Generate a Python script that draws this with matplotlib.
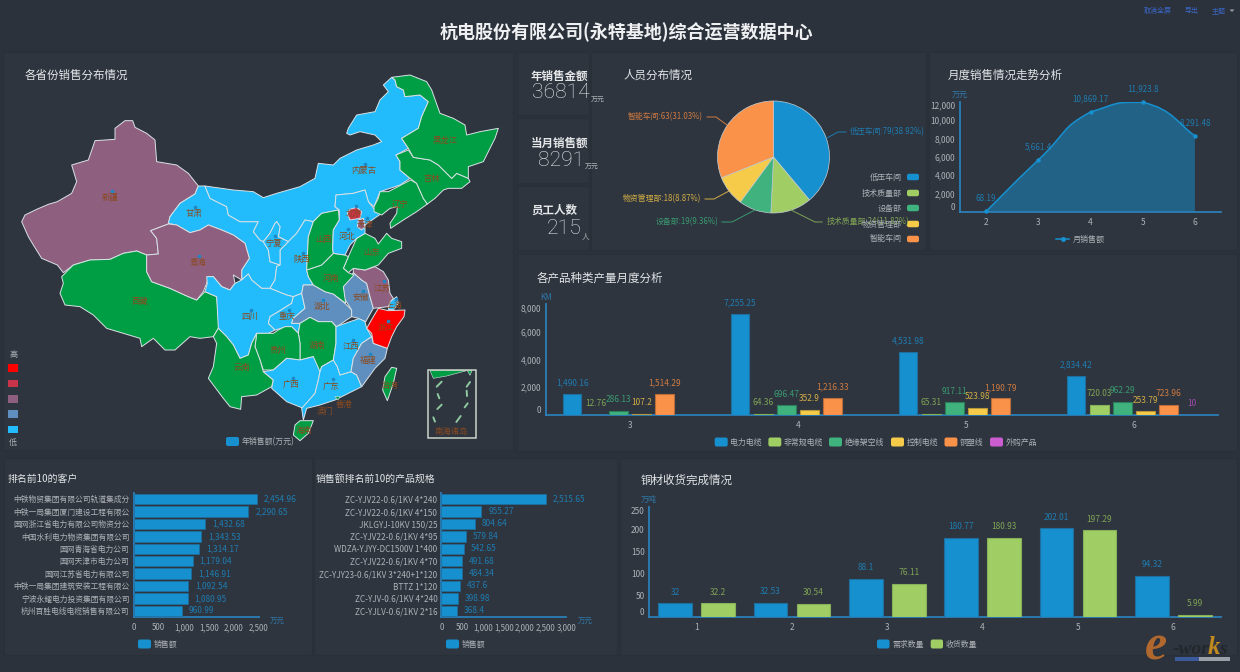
import matplotlib
matplotlib.use("Agg")
import matplotlib.pyplot as plt
from matplotlib.patches import FancyBboxPatch, Rectangle, PathPatch, Polygon
from matplotlib.path import Path

plt.rcParams['font.family'] = ['Noto Sans CJK SC', 'DejaVu Sans']
plt.rcParams['axes.unicode_minus'] = False

# ---------- data ----------
kpi_sales_year = 36814
kpi_sales_month = 8291
kpi_staff = 215

pie_names = ['低压车间', '技术质量部', '设备部', '物资管理部', '智能车间']
pie_values = [79, 24, 19, 18, 63]
pie_pct = ['38.92%', '11.82%', '9.36%', '8.87%', '31.03%']

month_x = ['2', '3', '4', '5', '6']
month_sales = [68.19, 5661.4, 10869.17, 11923.8, 8291.48]

prod_months = ['3', '4', '5', '6']
prod_names = ['电力电缆', '非常规电缆', '绝缘架空线', '控制电缆', '铜塑线', '外购产品']
prod_power = [1490.16, 7255.25, 4531.98, 2834.42]
prod_special = [12.76, 64.36, 65.31, 720.03]
prod_overhead = [286.13, 696.47, 917.11, 962.29]
prod_control = [107.2, 352.9, 523.98, 253.79]
prod_plastic = [1514.29, 1216.33, 1190.79, 723.96]
prod_bought = [None, None, None, 10]

cust_names = ['中铁物贸集团有限公司轨道集成分', '中铁一局集团厦门建设工程有限公', '国网浙江省电力有限公司物资分公',
              '中国水利电力物资集团有限公司', '国网青海省电力公司', '国网天津市电力公司', '国网江苏省电力有限公司',
              '中铁一局集团建筑安装工程有限公', '宁波永耀电力投资集团有限公司', '杭州百胜电线电缆销售有限公司']
cust_sales = [2454.96, 2290.65, 1432.68, 1343.53, 1314.17, 1179.04, 1146.91, 1092.54, 1080.95, 960.99]

spec_names = ['ZC-YJV22-0.6/1KV 4*240', 'ZC-YJV22-0.6/1KV 4*150', 'JKLGYJ-10KV 150/25', 'ZC-YJV22-0.6/1KV 4*95',
              'WDZA-YJYY-DC1500V 1*400', 'ZC-YJV22-0.6/1KV 4*70', 'ZC-YJY23-0.6/1KV 3*240+1*120', 'BTTZ 1*120',
              'ZC-YJV-0.6/1KV 4*240', 'ZC-YJLV-0.6/1KV 2*16']
spec_sales = [2515.65, 955.27, 804.64, 579.84, 542.65, 491.68, 484.34, 437.6, 398.98, 368.4]

copper_months = ['1', '2', '3', '4', '5', '6']
copper_demand = [32, 32.53, 88.1, 180.77, 202.01, 94.32]
copper_received = [32.2, 30.54, 76.11, 180.93, 197.29, 5.99]

province_level = {
    '新疆': 2, '西藏': 4, '青海': 2, '甘肃': 0, '内蒙古': 0, '宁夏': 0, '陕西': 0, '四川': 0, '重庆': 0, '湖北': 1,
    '湖南': 4, '贵州': 4, '云南': 4, '广西': 0, '广东': 0, '海南': 4, '江西': 0, '福建': 1, '浙江': 5, '安徽': 1,
    '江苏': 2, '上海': 0, '山东': 4, '河南': 4, '山西': 4, '河北': 0, '北京': 3, '天津': 2, '辽宁': 4, '吉林': 4,
    '黑龙江': 4, '台湾': 4,
}
# province outlines (map units)
outlines = {
    '新疆': [(65,515),(75,495),(110,478),(145,463),(172,455),(215,430),(230,395),(215,345),(265,330),(285,272),(345,268),(345,235),(375,212),(398,212),(405,232),(440,250),(465,270),(470,335),(530,345),(565,370),(595,408),(585,432),(540,460),(510,500),(505,522),(452,542),(470,565),(475,612),(440,615),(410,603),(370,610),(330,628),(270,630),(220,645),(190,668),(172,645),(125,625),(100,585),(85,560)],
    '西藏': [(185,680),(220,645),(270,630),(330,628),(370,610),(410,603),(440,615),(440,665),(455,695),(510,715),(565,740),(590,750),(615,725),(650,740),(658,830),(640,860),(600,865),(570,860),(525,900),(495,900),(460,865),(425,890),(420,865),(370,850),(320,835),(280,795),(240,770),(195,765),(180,730),(190,700)],
    '甘肃': [(595,408),(615,408),(630,445),(680,470),(685,495),(720,515),(775,515),(760,545),(780,570),(790,575),(805,600),(810,635),(840,645),(830,650),(825,690),(810,715),(785,715),(755,690),(745,672),(725,690),(725,660),(748,625),(735,580),(700,555),(665,540),(625,525),(600,540),(570,548),(530,525),(505,520),(510,500),(540,460),(585,432)],
    '青海': [(452,542),(505,522),(530,525),(570,548),(600,540),(625,525),(665,540),(700,555),(735,580),(748,625),(725,660),(725,690),(700,675),(705,700),(690,720),(665,710),(640,680),(625,680),(620,700),(610,725),(590,750),(565,740),(510,715),(455,695),(440,665),(440,615),(475,612),(470,565)],
    '内蒙古': [(615,408),(700,420),(760,425),(790,443),(830,430),(900,410),(945,385),(955,340),(1000,345),(1020,325),(1070,300),(1120,285),(1145,275),(1125,255),(1080,245),(1050,255),(1040,250),(1045,235),(1070,195),(1125,185),(1140,150),(1165,125),(1150,105),(1175,82),(1185,90),(1190,110),(1210,120),(1215,140),(1260,135),(1285,155),(1265,200),(1255,235),(1205,265),(1225,295),(1188,315),(1200,335),(1200,360),(1230,385),(1200,405),(1140,425),(1122,470),(1105,455),(1095,420),(1060,430),(1008,435),(1005,470),(1018,480),(965,490),(940,515),(915,510),(890,550),(865,575),(835,560),(840,530),(830,515),(825,520),(810,550),(790,575),(780,570),(760,545),(775,515),(720,515),(685,495),(680,470),(630,445)],
    '陕西': [(915,510),(940,515),(925,560),(922,620),(920,660),(925,680),(940,705),(910,705),(905,730),(880,740),(860,735),(810,715),(825,690),(830,650),(840,645),(840,600),(865,575),(890,550)],
    '宁夏': [(830,515),(840,530),(835,560),(865,575),(840,600),(840,645),(810,635),(805,600),(790,575),(810,550),(825,520)],
    '四川': [(620,680),(640,680),(665,710),(690,720),(705,700),(725,690),(745,672),(755,690),(785,715),(810,715),(860,735),(880,740),(875,760),(835,785),(810,800),(805,820),(825,840),(805,850),(770,850),(755,880),(745,915),(720,925),(700,885),(680,860),(655,835),(650,740),(615,725),(622,700)],
    '重庆': [(880,740),(905,730),(915,775),(880,805),(875,820),(900,820),(895,850),(875,830),(860,830),(825,840),(805,820),(810,800),(835,785),(875,760)],
    '湖北': [(905,730),(910,705),(940,705),(975,725),(1000,732),(1035,760),(1055,780),(1055,800),(1010,830),(995,815),(955,815),(930,802),(900,820),(875,820),(880,805),(915,775)],
    '湖南': [(900,820),(930,802),(955,815),(995,815),(1008,830),(1008,880),(1000,930),(965,950),(960,965),(945,960),(940,920),(900,930),(900,880),(895,850)],
    '贵州': [(770,850),(790,850),(820,850),(835,840),(855,830),(875,830),(895,850),(900,880),(900,930),(860,925),(820,960),(790,960),(780,930),(765,890)],
    '云南': [(640,860),(655,835),(680,860),(700,885),(720,925),(745,915),(755,880),(770,850),(765,890),(780,930),(790,965),(820,990),(815,1010),(770,1035),(725,1040),(722,1078),(690,1070),(670,1045),(625,985),(640,950),(650,880)],
    '广西': [(790,965),(820,960),(860,925),(900,930),(940,920),(960,965),(955,990),(945,1030),(910,1075),(860,1055),(815,1015),(820,990)],
    '广东': [(960,965),(965,950),(1000,930),(1012,950),(1020,975),(1053,965),(1070,975),(1085,1010),(1035,1035),(1005,1050),(960,1065),(920,1075),(910,1110),(905,1075),(945,1030),(955,990)],
    '海南': [(885,1125),(900,1112),(940,1112),(925,1150),(900,1172),(880,1155)],
    '江西': [(1008,830),(1050,815),(1080,805),(1095,815),(1100,835),(1115,860),(1085,880),(1060,925),(1053,965),(1020,975),(1012,950),(1000,930),(1008,880)],
    '福建': [(1115,860),(1120,880),(1162,895),(1155,925),(1125,955),(1085,1010),(1070,975),(1053,965),(1060,925),(1085,880)],
    '安徽': [(1060,668),(1085,690),(1100,700),(1110,740),(1120,775),(1097,815),(1075,805),(1055,800),(1055,780),(1033,745),(1030,710),(1045,690)],
    '江苏': [(1060,655),(1095,660),(1125,650),(1150,665),(1165,690),(1170,730),(1180,745),(1165,770),(1120,775),(1110,740),(1100,700),(1085,690),(1060,668)],
    '浙江': [(1100,835),(1120,800),(1135,775),(1165,782),(1215,780),(1212,800),(1190,830),(1175,860),(1162,895),(1120,880),(1115,850)],
    '上海': [(1170,755),(1190,740),(1195,760),(1180,780),(1165,778)],
    '山东': [(1030,655),(1045,620),(1070,565),(1095,550),(1125,565),(1135,582),(1160,550),(1175,565),(1205,575),(1205,595),(1165,610),(1135,645),(1095,660),(1060,655),(1045,668)],
    '河南': [(920,660),(965,645),(1000,610),(1035,615),(1045,620),(1030,655),(1045,668),(1062,675),(1030,710),(1035,745),(1037,760),(1000,732),(975,725),(940,705),(925,680)],
    '山西': [(1015,480),(965,490),(940,515),(925,560),(922,620),(920,660),(965,645),(1000,610),(998,595),(1000,540),(1018,510)],
    '河北': [(1008,435),(1060,430),(1095,420),(1105,455),(1125,480),(1145,490),(1095,525),(1095,550),(1070,565),(1050,585),(1035,615),(1000,610),(998,595),(1000,540),(1018,510),(1018,480),(1005,470)],
    '北京': [(1042,490),(1050,478),(1070,472),(1085,485),(1080,505),(1050,510)],
    '天津': [(1075,510),(1090,505),(1095,530),(1085,540),(1072,530)],
    '辽宁': [(1122,470),(1135,445),(1140,425),(1165,425),(1232,390),(1250,400),(1270,445),(1282,462),(1250,485),(1210,510),(1172,535),(1170,520),(1190,490),(1192,470),(1170,475),(1145,495),(1122,485)],
    '吉林': [(1188,315),(1225,300),(1240,322),(1290,330),(1315,345),(1355,385),(1370,370),(1405,385),(1410,395),(1385,415),(1345,415),(1330,420),(1305,445),(1282,462),(1270,445),(1250,400),(1230,385),(1200,360),(1200,335)],
    '黑龙江': [(1175,82),(1230,75),(1280,95),(1295,120),(1320,190),(1360,205),(1395,225),(1400,255),(1440,245),(1495,235),(1485,265),(1450,335),(1405,350),(1405,385),(1370,370),(1355,385),(1315,345),(1290,330),(1240,322),(1225,295),(1205,265),(1255,235),(1265,200),(1285,155),(1260,135),(1215,140),(1210,120),(1190,110),(1185,90)],
    '台湾': [(1175,952),(1190,955),(1180,1000),(1162,1052),(1148,1020),(1155,980)],
}
province_text = {
    '新疆': (330,441), '青海': (593,636), '西藏': (420,753), '甘肃': (582,490), '内蒙古': (1090,362), '黑龙江': (1335,270),
    '吉林': (1297,385), '辽宁': (1200,462), '河北': (1040,558), '北京': (1062,490), '天津': (1095,522), '山西': (970,568),
    '宁夏': (820,580), '陕西': (904,628), '山东': (1115,607), '河南': (993,685), '江苏': (1147,714), '安徽': (1082,742),
    '上海': (1183,765), '湖北': (965,768), '四川': (748,798), '重庆': (860,800), '浙江': (1157,833), '湖南': (950,886),
    '贵州': (835,900), '江西': (1052,888), '福建': (1105,930), '云南': (725,953), '广西': (873,1002), '广东': (994,1008),
    '台湾': (1170,1005), '香港': (1032,1063), '澳门': (975,1083), '海南': (912,1140), '南海诸岛': (1355,1143),
}
province_dots = {
    '新疆': (335,422), '青海': (598,618), '甘肃': (586,470), '内蒙古': (1095,342), '河北': (1045,538), '北京': (1068,468),
    '天津': (1100,503), '宁夏': (825,558), '陕西': (910,610), '江苏': (1152,694), '安徽': (1088,722), '上海': (1187,746),
    '湖北': (970,749), '四川': (754,779), '重庆': (866,780), '浙江': (1163,814), '江西': (1058,870), '福建': (1111,911),
    '广西': (878,983), '广东': (999,988),
}
south_sea_islands = [[(1310,1010),(1325,995)], [(1313,1032),(1318,1045)], [(1400,1022),(1401,1038)], [(1400,1010),(1410,996)],
                     [(1312,1077),(1325,1064)], [(1394,1072),(1403,1060)], [(1300,1102),(1305,1115)], [(1369,1116),(1382,1098)]]
south_sea_land = [[(1290,962),(1400,962),(1340,978),(1300,985)], [(1402,962),(1416,962),(1410,976)]]

# ---------- style ----------
BG = '#2c323b'
PANEL = '#2e353f'
BLUE, GREEN, TEAL, YELLOW, ORANGE, PURPLE = '#1790cf', '#a0ce65', '#3fb27e', '#f7cb4a', '#fa9249', '#cc5dd0'
E_BLUE, E_GREEN, E_TEAL, E_YELLOW, E_ORANGE, E_PURPLE = '#1e6f9e', '#88b059', '#2d7f5a', '#b8973a', '#b86d3a', '#96459a'
L_BLUE, L_GREEN, L_TEAL, L_YELLOW, L_ORANGE, L_PURPLE = '#1f7cb0', '#7fa354', '#3a9a70', '#d2ad45', '#d07a40', '#a04cb0'
AXIS = '#2b7fb8'
TICK = '#aeb2b7'
UNIT = '#2f78a8'
TITLE = '#e4e6e8'
level_colors = ['#22bbfb', '#5f8fbf', '#8f5f7f', '#c9344a', '#009e44', '#ff0000']
MAP_LABEL = '#8a4a20'

W, H = 1240, 672
fig = plt.figure(figsize=(W / 100, H / 100), dpi=100, facecolor=BG)


def axes_px(x0, y0, x1, y1, z=2):
    a = fig.add_axes([x0 / W, 1 - y1 / H, (x1 - x0) / W, (y1 - y0) / H], zorder=z)
    a.patch.set_visible(False)
    return a


def canvas(z):
    a = axes_px(0, 0, W, H, z)
    a.set_xlim(0, W)
    a.set_ylim(H, 0)
    a.axis('off')
    return a


bg = canvas(0)
ov = canvas(10)

for (x0, y0, x1, y1) in [(3, 52, 513, 450), (517, 52, 589, 115), (517, 118, 589, 183), (517, 186, 589, 250),
                         (591, 52, 926, 250), (929, 52, 1237, 250), (517, 254, 1237, 451),
                         (4, 458, 312, 655), (314, 458, 617, 655), (620, 458, 1237, 655)]:
    bg.add_patch(Rectangle((x0, y0), x1 - x0, y1 - y0, fc=PANEL, ec='#2a3038', lw=0.8))


def T(x, y, s, size=5.7, color=TICK, ha='left', va='center', **kw):
    ov.text(x, y, s, fontsize=size, color=color, ha=ha, va=va, **kw)


def legend_box(x0, x1, yc, color, h=9, canvas_ax=ov):
    r = 2
    canvas_ax.add_patch(FancyBboxPatch((x0 + r, yc - h / 2 + r), x1 - x0 - 2 * r, h - 2 * r,
                                       boxstyle=f'round,pad={r},rounding_size={r}', fc=color, ec='none'))


def fmt(v):
    return f'{v:,.2f}'.rstrip('0').rstrip('.')


def style_axes(a, pad_y=3.2, pad_x=4.2):
    for s in ('top', 'right'):
        a.spines[s].set_visible(False)
    for s in ('left', 'bottom'):
        a.spines[s].set_color(AXIS)
        a.spines[s].set_linewidth(1.3)
    a.tick_params(axis='both', length=0, labelsize=6, labelcolor=TICK)
    a.tick_params(axis='y', pad=pad_y)
    a.tick_params(axis='x', pad=pad_x)


def edge_align_yticks(a):
    labs = a.get_yticklabels()
    labs[0].set_va('bottom')
    labs[-1].set_va('top')


def bar_labels(a, xs, vals, color, size=6):
    for x, v in zip(xs, vals):
        if v is None:
            continue
        a.annotate(fmt(v), (x, v), xytext=(0, 8), textcoords='offset points', ha='center', va='center',
                   fontsize=size, color=color, annotation_clip=False)


# ---------- header ----------
T(626, 32, '杭电股份有限公司(永特基地)综合运营数据中心', size=13, color='#eef0f2', ha='center', weight='bold')
HDR = '#3a66c8'
T(1144, 11, '取消全屏', size=5, color=HDR)
T(1185, 11, '导出', size=5, color=HDR)
T(1212, 11, '主题', size=5, color=HDR)
ov.add_patch(Polygon([(1229.5, 9.5), (1234.5, 9.5), (1232, 12)], fc='#9aa0a6', ec='none'))

# ---------- map ----------
mp = axes_px(0, 50, 515, 450, 2)
mp.set_xlim(0, 1545)
mp.set_ylim(1200, 0)
mp.axis('off')
for name, pts in outlines.items():
    mp.add_patch(Polygon(pts, closed=True, fc=level_colors[province_level[name]], ec='#d9e2e6', lw=0.7, joinstyle='round'))
mp.add_patch(Polygon([(1005, 1040), (1020, 1040), (1014, 1050)], fc=level_colors[4], ec='#d9e2e6', lw=0.4))
for pts in south_sea_land:
    mp.add_patch(Polygon(pts, closed=True, fc=level_colors[4], ec='#d9e2e6', lw=0.4))
for seg in south_sea_islands:
    mp.plot(*zip(*seg), color='#8fc9a0', lw=1.4, solid_capstyle='round')
mp.add_patch(Rectangle((1285, 960), 143, 205, fc='none', ec='#c8d5c8', lw=1.1))
for name, (x, y) in province_dots.items():
    mp.plot([x], [y], 'o', ms=2.6, color='#1f86c4', mec='none', zorder=4)
for name, (x, y) in province_text.items():
    mp.text(x, y, name, fontsize=6, color=MAP_LABEL, ha='center', va='center', zorder=5)

T(25, 75, '各省份销售分布情况', size=8.3, color=TITLE)
T(13, 354, '高', size=5.8, ha='center')
T(13, 442.5, '低', size=5.8, ha='center')
for yc, c in zip([368, 383.3, 398.7, 414, 429.5], [level_colors[5], level_colors[3], level_colors[2], level_colors[1], level_colors[0]]):
    ov.add_patch(Rectangle((8, yc - 3.8), 10, 7.6, fc=c, ec='none'))
legend_box(226, 239, 441.5, BLUE)
T(242, 441.5, '年销售额(万元)', size=5.7)

# ---------- KPIs ----------
KPI_NUM = dict(size=15.2, color=TITLE, family='Roboto', weight='light')
T(531, 76, '年销售金额', size=8.3, color=TITLE, weight='bold')
T(532, 93, str(kpi_sales_year), **KPI_NUM)
T(591, 100, '万元', size=5, color=TICK)
T(531, 143, '当月销售额', size=8.3, color=TITLE, weight='bold')
T(538, 161, str(kpi_sales_month), **KPI_NUM)
T(585, 167, '万元', size=5, color=TICK)
T(531, 210, '员工人数', size=8.3, color=TITLE, weight='bold')
T(547, 229, str(kpi_staff), **KPI_NUM)
T(582, 236, '人', size=5.5, color=TICK)

# ---------- pie ----------
T(624, 75, '人员分布情况', size=8.3, color=TITLE)
cx, cy, r = 773.5, 157, 56
pa = axes_px(cx - r, cy - r, cx + r, cy + r, 2)
pie_colors = [BLUE, GREEN, TEAL, YELLOW, ORANGE]
pie_label_colors = [L_BLUE, L_GREEN, L_TEAL, L_YELLOW, L_ORANGE]
pa.pie(pie_values, colors=pie_colors, startangle=90, counterclock=False, radius=1,
       wedgeprops=dict(edgecolor='#c3cdd3', linewidth=0.5))
pa.set_xlim(-1, 1)
pa.set_ylim(-1, 1)
leader = [((827, 138), (838, 132), (846, 132), 850, 'left'),
          ((791, 210), (815, 222), (822, 222), 827, 'left'),
          ((755, 210), (732, 222), (722, 222), 718, 'right'),
          ((729, 191), (714, 199), (705, 199), 701, 'right'),
          ((727, 125), (716, 117), (707, 117), 703, 'right')]
for n, v, p, lc, (a0, a1, a2, tx, ha) in zip(pie_names, pie_values, pie_pct, pie_label_colors, leader):
    ov.plot([a0[0], a1[0], a2[0]], [a0[1], a1[1], a2[1]], color=lc, lw=0.7)
    T(tx, a2[1], f'{n}:{v}({p})', size=5.7, color=lc, ha=ha)
for n, c, yc in zip(pie_names, pie_colors, [177, 193, 208, 224, 239]):
    T(902, yc, n, size=5.8, ha='right')
    legend_box(907, 919, yc, c, h=6.5)

# ---------- monthly sales ----------
T(948, 75, '月度销售情况走势分析', size=8.3, color=TITLE)
ma = axes_px(960, 101.6, 1221, 212, 3)
style_axes(ma, pad_y=3.5)
ma.set_xlim(-0.5, 4.5)
ma.set_ylim(0, 12000)
ma.set_xticks(range(len(month_x)), month_x)
ma.set_yticks(range(0, 12001, 2000), [f'{v:,}' for v in range(0, 12001, 2000)])
edge_align_yticks(ma)
xs = list(range(len(month_sales)))
ymin, ymax = min(month_sales), max(month_sales)
s = 0.3
verts, codes = [(xs[0], month_sales[0])], [Path.MOVETO]
for i in range(len(xs) - 1):
    p0, p1 = max(i - 1, 0), i
    p2, p3 = i + 1, min(i + 2, len(xs) - 1)
    c1 = (xs[p1] + s * (xs[p2] - xs[p0]), min(ymax, max(ymin, month_sales[p1] + s * (month_sales[p2] - month_sales[p0]))))
    c2 = (xs[p2] - s * (xs[p3] - xs[p1]), min(ymax, max(ymin, month_sales[p2] - s * (month_sales[p3] - month_sales[p1]))))
    verts += [c1, c2, (xs[p2], month_sales[p2])]
    codes += [Path.CURVE4] * 3
for x, v in zip(xs, month_sales):
    ma.annotate(fmt(v), (x, v), xytext=(0, 9.5), textcoords='offset points', ha='center', va='center',
                fontsize=5.8, color=L_BLUE, zorder=1, annotation_clip=False)
area = Path(verts + [(xs[-1], 0), (xs[0], 0), (xs[0], month_sales[0])],
            codes + [Path.LINETO, Path.LINETO, Path.LINETO])
ma.add_patch(PathPatch(area, fc=BLUE, ec='none', alpha=0.5, zorder=2))
ma.add_patch(PathPatch(Path(verts, codes), fc='none', ec=BLUE, lw=1.1, zorder=3))
ma.plot(xs, month_sales, 'o', ms=3.2, color=BLUE, mec='none', zorder=4, clip_on=False)
T(960, 94, '万元', size=5.8, color=UNIT, ha='center')
ov.plot([1056, 1069], [239, 239], color=BLUE, lw=1.1)
ov.plot([1063], [239], 'o', ms=3.6, color=BLUE, mec='none')
T(1073, 239, '月销售额', size=5.8)

# ---------- product output ----------
T(537, 278, '各产品种类产量月度分析', size=8.3, color=TITLE)
pb = axes_px(546, 304, 1218, 415, 3)
style_axes(pb)
pb.set_xlim(0, 4)
pb.set_ylim(0, 8000)
pb.set_xticks([i + 0.5 for i in range(4)], prod_months)
pb.set_yticks(range(0, 8001, 2000), [f'{v:,}' for v in range(0, 8001, 2000)])
edge_align_yticks(pb)
series = [prod_power, prod_special, prod_overhead, prod_control, prod_plastic, prod_bought]
cols = [BLUE, GREEN, TEAL, YELLOW, ORANGE, PURPLE]
ecols = [E_BLUE, E_GREEN, E_TEAL, E_YELLOW, E_ORANGE, E_PURPLE]
lcols = [L_BLUE, L_GREEN, L_TEAL, L_YELLOW, L_ORANGE, L_PURPLE]
step = 23.1 / 168
for k, (vals, c, ec, lc) in enumerate(zip(series, cols, ecols, lcols)):
    present = [(i, v) for i, v in enumerate(vals) if v is not None]
    bx = [i + 0.5 + (k - 2.5) * step for i, _ in present]
    hs = [v for _, v in present]
    pb.bar(bx, hs, width=18.4 / 168, color=c, edgecolor=ec, linewidth=0.8, zorder=3)
    bar_labels(pb, [i + 0.5 + (k - 2.5) * step for i in range(4)], vals, lc)
T(546, 297, 'KM', size=5.8, color=UNIT, ha='center')
for n, c, x0, x1, tx in zip(prod_names, cols, [714.7, 768.4, 829, 891, 944.5, 990], [727.7, 781.3, 842, 904, 957.4, 1003],
                            [730.4, 784, 845, 906.6, 960, 1006]):
    legend_box(x0, x1, 442, c)
    T(tx, 442, n, size=5.7)


# ---------- top-10 bars ----------
def top10(x0, x1, vals, names, xmax, ticks, title, tx, unit_x, lg0, size):
    T(tx, 479, title, size=7.1, color=TITLE)
    a = axes_px(x0, 493, x1, 617, 3)
    style_axes(a, pad_y=3, pad_x=4.4)
    a.set_xlim(0, xmax)
    a.set_ylim(10, 0)
    ys = [i + 0.5 for i in range(10)]
    a.barh(ys, vals, height=0.84, color=BLUE, edgecolor=E_BLUE, linewidth=0.5, zorder=3)
    a.set_yticks(ys, names)
    a.set_xticks(ticks, [f'{t:,}' for t in ticks])
    a.tick_params(axis='y', labelsize=size)
    a.tick_params(axis='x', labelsize=5.7)
    for y, v in zip(ys, vals):
        a.annotate(fmt(v), (v, y), xytext=(5, 0), textcoords='offset points', ha='left', va='center',
                   fontsize=6, color=L_BLUE, annotation_clip=False)
    T(unit_x, 621, '万元', size=5.4, color=UNIT, ha='center')
    legend_box(lg0, lg0 + 13, 644, BLUE)
    T(lg0 + 16, 644, '销售额', size=5.7)


top10(133.6, 258.9, cust_sales, cust_names, 2500, [0, 500, 1000, 1500, 2000, 2500], '排名前10的客户', 8, 277, 138, 5.6)
top10(441.5, 566.4, spec_sales, spec_names, 3000, [0, 500, 1000, 1500, 2000, 2500, 3000], '销售额排名前10的产品规格', 316, 585, 446, 5.9)

# ---------- copper ----------
T(640.5, 480, '铜材收货完成情况', size=8.3, color=TITLE)
ca = axes_px(649, 507.3, 1221, 617.3, 3)
style_axes(ca)
ca.set_xlim(0, 6)
ca.set_ylim(0, 250)
ca.set_xticks([i + 0.5 for i in range(6)], copper_months)
ca.set_yticks(range(0, 251, 50), [str(v) for v in range(0, 251, 50)])
edge_align_yticks(ca)
step = 21.4 / 95.33
bw = 33.6 / 95.33
x_d = [i + 0.5 - step for i in range(6)]
x_r = [i + 0.5 + step for i in range(6)]
ca.bar(x_d, copper_demand, width=bw, color=BLUE, edgecolor=E_BLUE, linewidth=0.8, zorder=3)
ca.bar(x_r, copper_received, width=bw, color=GREEN, edgecolor=E_GREEN, linewidth=0.8, zorder=3)
bar_labels(ca, x_d, copper_demand, L_BLUE)
bar_labels(ca, x_r, copper_received, L_GREEN)
T(649, 499, '万吨', size=5.8, color=UNIT, ha='center')
legend_box(877, 889.5, 644, BLUE)
T(892.7, 644, '需求数量', size=5.7)
legend_box(930.7, 943, 644, GREEN)
T(946, 644, '收货数量', size=5.7)

# ---------- watermark ----------
wm = dict(family='Liberation Serif', style='italic', weight='bold', ha='left', va='baseline')
ov.text(1145, 660, 'e', fontsize=36, color='#b0682e', **wm)
ov.text(1173, 654, '-wor', fontsize=14, color='#23272c', **wm)
ov.text(1208, 654, 'k', fontsize=18, color='#c08a20', **wm)
ov.text(1219, 654, 's', fontsize=14, color='#23272c', **wm)
ov.add_patch(Rectangle((1175, 657), 24, 4, fc='#3b5a9c', ec='none'))
ov.add_patch(Rectangle((1199, 657), 31, 4, fc='#9aa0a8', ec='none'))

fig.savefig('out.png', dpi=100, facecolor=BG)
